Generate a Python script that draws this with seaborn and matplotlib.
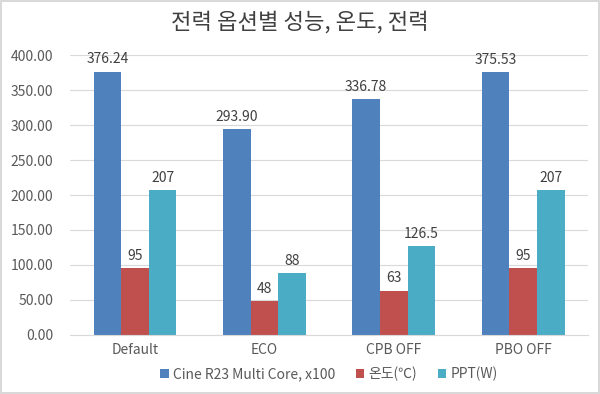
import numpy as np
import pandas as pd
import matplotlib
matplotlib.use('Agg')
import matplotlib.pyplot as plt
import seaborn as sns

categories = ['Default', 'ECO', 'CPB OFF', 'PBO OFF']
series = ['Cine R23 Multi Core, x100', '온도(℃)', 'PPT(W)']
cine = [376.24, 293.90, 336.78, 375.53]
temp = [95, 48, 63, 95]
ppt = [207, 88, 126.5, 207]
labels = [['376.24', '293.90', '336.78', '375.53'],
          ['95', '48', '63', '95'],
          ['207', '88', '126.5', '207']]
colors = ['#4F81BD', '#C0504D', '#4BACC6']

sns.set_style('white')
plt.rcParams['font.family'] = ['Noto Sans CJK KR', 'DejaVu Sans']

df = pd.DataFrame({
    'cat': categories * 3,
    'series': np.repeat(series, 4),
    'value': cine + temp + ppt,
})

fig = plt.figure(figsize=(6, 3.94), dpi=100)
fig.patch.set_edgecolor('#d9d9d9')
fig.patch.set_linewidth(1.5)
ax = fig.add_axes([0.117, 0.150, 0.863, 0.710])

sns.barplot(data=df, x='cat', y='value', hue='series', order=categories,
            hue_order=series, palette=colors, width=0.64, gap=0,
            saturation=1, linewidth=0, ax=ax, legend=True)

for cont, lab in zip(ax.containers, labels):
    ax.bar_label(cont, labels=lab, padding=4, fontsize=10, color='#404040')

ax.set_ylim(0, 400)
ax.set_yticks(np.arange(0, 401, 50))
ax.set_yticklabels(['%.2f' % v for v in np.arange(0, 401, 50)])
ax.yaxis.grid(True, color='#d9d9d9', linewidth=0.8)
ax.set_axisbelow(True)
ax.set_xlabel('')
ax.set_ylabel('')
for s in ['top', 'right', 'left']:
    ax.spines[s].set_visible(False)
ax.spines['bottom'].set_color('#d9d9d9')
ax.tick_params(axis='both', length=0, labelsize=10, colors='#595959')
ax.tick_params(axis='x', pad=6)
ax.tick_params(axis='y', pad=12)

ax.legend(loc='center', bbox_to_anchor=(0.5, -0.14), ncol=3, frameon=False,
          fontsize=10, handlelength=0.6, handleheight=0.6, handletextpad=0.3,
          columnspacing=1.5, labelcolor='#595959')

fig.text(0.5, 0.945, '전력 옵션별 성능, 온도, 전력', ha='center', va='center',
         fontsize=16, color='#404040')

fig.savefig('out.png', dpi=100)
